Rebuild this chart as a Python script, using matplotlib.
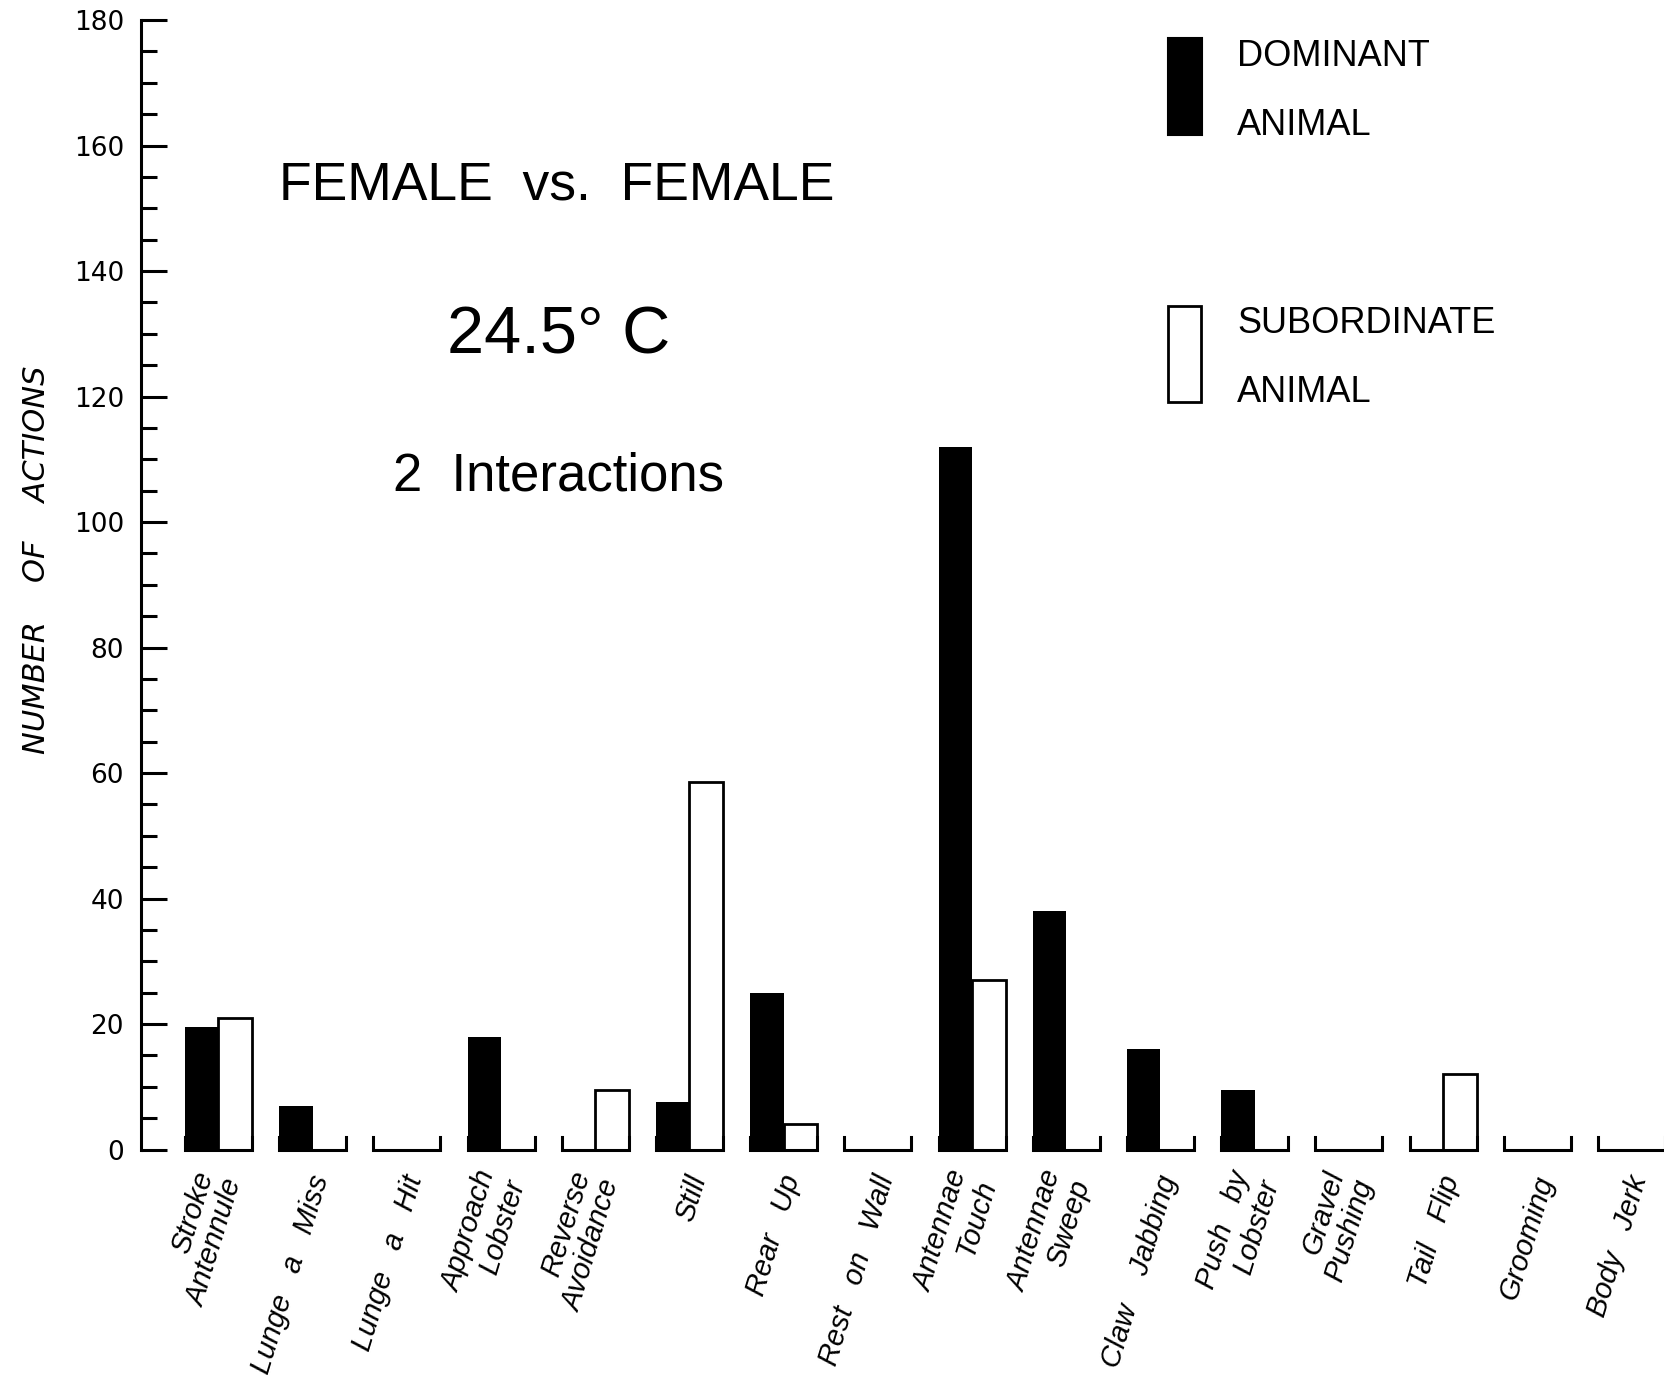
"""Bar chart of lobster behaviour counts: female vs. female pairings at 24.5 C."""

import matplotlib

matplotlib.use("Agg")
import matplotlib.pyplot as plt
import numpy as np
from matplotlib.patches import Rectangle
from matplotlib.ticker import MultipleLocator


ACTIONS = [
    "Stroke\nAntennule",
    "Lunge   a   Miss",
    "Lunge   a   Hit",
    "Approach\nLobster",
    "Reverse\nAvoidance",
    "Still",
    "Rear   Up",
    "Rest   on   Wall",
    "Antennae\nTouch",
    "Antennae\nSweep",
    "Claw    Jabbing",
    "Push   by\nLobster",
    "Gravel\nPushing",
    "Tail   Flip",
    "Grooming",
    "Body   Jerk",
]
DOMINANT = [19.5, 7, 0, 18, 0, 7.5, 25, 0, 112, 38, 16, 9.5, 0, 0, 0, 0]
SUBORDINATE = [21, 0, 0, 0, 9.5, 58.5, 4, 0, 27, 0, 0, 0, 0, 12, 0, 0]
Y_TICKS = [0, 20, 40, 60, 80, 100, 120, 140, 160, 180]

FIG_W, FIG_H = 1665, 1381
DPI = 100
GROUP_WIDTH = 0.71
BAR_WIDTH = GROUP_WIDTH / 2
ARM_HEIGHT = 2.0
LINE_W = 2.2


def _fx(px: float) -> float:
    """Pixel column to figure fraction."""
    return px / FIG_W


def _fy(px: float) -> float:
    """Pixel row (from top) to figure fraction."""
    return 1.0 - px / FIG_H


def _draw_bars(ax, x: np.ndarray) -> None:
    ax.bar(x - BAR_WIDTH / 2, DOMINANT, BAR_WIDTH, color="black", linewidth=0, zorder=2)
    ax.bar(
        x + BAR_WIDTH / 2,
        SUBORDINATE,
        BAR_WIDTH,
        facecolor="white",
        edgecolor="black",
        linewidth=2.0,
        zorder=2,
    )
    # each category sits in its own little bracket instead of a continuous x axis
    for center in x:
        left, right = center - GROUP_WIDTH / 2, center + GROUP_WIDTH / 2
        ax.plot(
            [left, left, right, right],
            [ARM_HEIGHT, 0, 0, ARM_HEIGHT],
            color="black",
            linewidth=LINE_W,
            solid_joinstyle="miter",
            clip_on=False,
            zorder=3,
        )


def _draw_category_labels(ax, x: np.ndarray) -> None:
    for center, label in zip(x, ACTIONS):
        n_lines = label.count("\n") + 1
        ax.annotate(
            label,
            xy=(center, 0),
            xycoords="data",
            xytext=(6 - 5 * (n_lines - 1), -19),
            textcoords="offset points",
            rotation=73,
            rotation_mode="anchor",
            ha="right",
            va="center",
            multialignment="right",
            linespacing=1.1,
            fontsize=21,
            fontstyle="italic",
            family="Liberation Sans",
            annotation_clip=False,
        )


def _draw_annotations(fig) -> None:
    title_font = {"family": "Liberation Sans", "color": "black"}
    fig.text(_fx(557), _fy(200), "FEMALE  vs.  FEMALE", ha="center", va="baseline", fontsize=38.5, **title_font)
    fig.text(_fx(559), _fy(354), "24.5° C", ha="center", va="baseline", fontsize=48, **title_font)
    fig.text(_fx(559), _fy(490), "2  Interactions", ha="center", va="baseline", fontsize=38, **title_font)

    fig.add_artist(
        Rectangle((_fx(1168), _fy(135)), 34 / FIG_W, 97 / FIG_H, transform=fig.transFigure,
                  facecolor="black", edgecolor="black", linewidth=1.5)
    )
    fig.add_artist(
        Rectangle((_fx(1168), _fy(402)), 33 / FIG_W, 96 / FIG_H, transform=fig.transFigure,
                  facecolor="white", edgecolor="black", linewidth=2.0)
    )
    legend_rows = [("DOMINANT", 66), ("ANIMAL", 135), ("SUBORDINATE", 333), ("ANIMAL", 402)]
    for text, baseline in legend_rows:
        fig.text(_fx(1237), _fy(baseline), text, ha="left", va="baseline", fontsize=26, **title_font)

    fig.text(
        _fx(37), _fy(560), "NUMBER    OF    ACTIONS",
        rotation=90, ha="center", va="center", fontsize=22, fontstyle="italic", family="DejaVu Sans",
    )


def main() -> None:
    plt.rcParams["font.family"] = ["DejaVu Sans"]
    fig = plt.figure(figsize=(FIG_W / DPI, FIG_H / DPI), dpi=DPI)
    ax = fig.add_axes([0.0845, 0.1676, 0.9155, 0.8179])

    x = np.arange(len(ACTIONS))
    _draw_bars(ax, x)

    ax.set_xlim(-0.826, 15.356)
    ax.set_ylim(0, 180)
    for side in ("top", "right", "bottom"):
        ax.spines[side].set_visible(False)
    ax.spines["left"].set_bounds(0, 180)
    ax.spines["left"].set_linewidth(LINE_W)
    ax.set_xticks([])
    ax.set_yticks(Y_TICKS)
    ax.yaxis.set_minor_locator(MultipleLocator(5))
    ax.tick_params(axis="y", which="major", direction="in", length=19, width=LINE_W, labelsize=19, pad=12)
    ax.tick_params(axis="y", which="minor", direction="in", length=11.5, width=LINE_W)

    _draw_category_labels(ax, x)
    _draw_annotations(fig)

    fig.savefig("out.png", dpi=DPI)
    plt.close(fig)


if __name__ == "__main__":
    main()
